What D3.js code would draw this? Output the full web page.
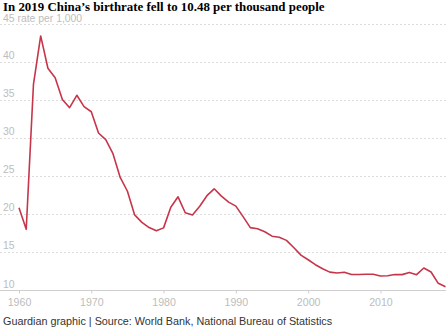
<!DOCTYPE html>
<html><head><meta charset="utf-8">
<script src="https://cdn.jsdelivr.net/npm/d3@7"></script>
<style>body{margin:0;background:#fff;} svg{display:block;}</style>
</head><body>
<script>
const years = d3.range(1960, 2020);
const birthRate = [20.86,18.02,37.01,43.37,39.14,37.88,35.05,33.96,35.59,34.11,
  33.43,30.65,29.77,27.93,24.82,23.01,19.91,18.93,18.25,17.82,
  18.21,20.91,22.28,20.19,19.90,21.04,22.43,23.33,22.37,21.58,
  21.06,19.68,18.24,18.09,17.70,17.12,16.98,16.57,15.64,14.64,
  14.03,13.38,12.86,12.41,12.29,12.40,12.09,12.10,12.14,12.13,
  11.90,11.93,12.10,12.08,12.37,12.07,12.95,12.43,10.94,10.48];
const yTicks = [10,15,20,25,30,35,40,45];
const xTicks = [1960,1970,1980,1990,2000,2010];
const title = "In 2019 China\u2019s birthrate fell to 10.48 per thousand people";
const footer = "Guardian graphic | Source: World Bank, National Bureau of Statistics";

const W = 448, H = 331;
const svg = d3.select("body").append("svg").attr("width", W).attr("height", H);

const x = d3.scaleLinear().domain([1960, 2019]).range([19, 445.5]);
const y = d3.scaleLinear().domain([10, 45]).range([290.5, 23.5]);

svg.append("text").attr("x", 3).attr("y", 11)
  .attr("font-family", "'Liberation Serif', 'Times New Roman', serif")
  .attr("font-weight", "bold").attr("font-size", 12.9).attr("fill", "#000")
  .text(title);

// gridlines
svg.append("g").selectAll("line").data(yTicks.filter(d => d > 10)).join("line")
  .attr("x1", 0).attr("x2", W).attr("y1", d => Math.round(y(d)) + 0.5).attr("y2", d => Math.round(y(d)) + 0.5)
  .attr("stroke", "#dcdcdc").attr("stroke-dasharray", "2,2");

// y labels
svg.append("g").selectAll("text").data(yTicks).join("text")
  .attr("x", 3).attr("y", d => d === 45 ? y(d) - 1.5 : y(d) - 3)
  .attr("font-family", "'Liberation Sans', Arial, sans-serif").attr("font-size", 10.4)
  .attr("fill", "#bdbdbd")
  .text(d => d === 45 ? "45 rate per 1,000" : d);

// x axis
const xAxis = d3.axisBottom(x).tickValues(xTicks).tickFormat(d3.format("d")).tickSize(3).tickPadding(5);
const gx = svg.append("g").attr("transform", "translate(0,290.5)").call(xAxis);
gx.select(".domain").remove();
gx.append("line").attr("x1", 0).attr("x2", 446).attr("stroke", "#cfcfcf");
gx.selectAll(".tick line").attr("stroke", "#cfcfcf");
gx.selectAll(".tick text").attr("fill", "#bdbdbd")
  .attr("font-family", "'Liberation Sans', Arial, sans-serif").attr("font-size", 10.6);

// line
const line = d3.line().x((d, i) => x(years[i])).y(d => y(d));
svg.append("path").datum(birthRate).attr("d", line)
  .attr("fill", "none").attr("stroke", "#c7354a").attr("stroke-width", 1.6)
  .attr("stroke-linejoin", "round");

svg.append("text").attr("x", 3).attr("y", 325)
  .attr("font-family", "'Liberation Sans', Arial, sans-serif").attr("font-size", 10.8)
  .attr("fill", "#333").text(footer);
</script>
</body></html>
